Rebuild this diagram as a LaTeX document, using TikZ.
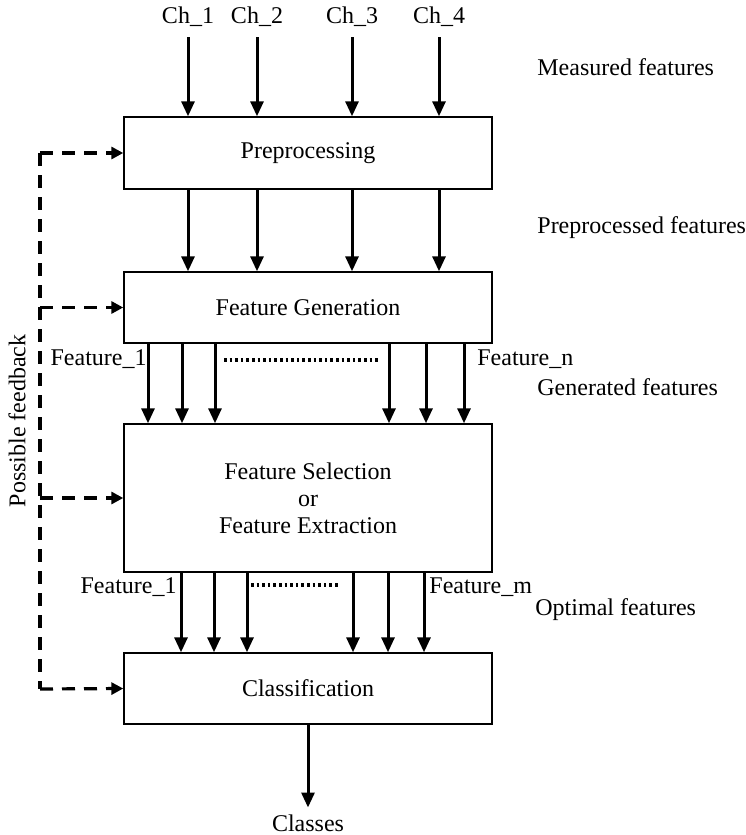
\documentclass[tikz,border=0pt]{standalone}
\usepackage{fontspec}
\setmainfont{Liberation Serif}
\usetikzlibrary{arrows.meta,positioning}

\begin{document}
\begin{tikzpicture}[
  x=0.5pt, y=-0.5pt,
  >={Triangle[length=7.5pt,width=6.5pt]},
  font=\fontsize{12}{13.5}\selectfont,
  box/.style   = {
    draw, line width=0.7pt,
    align=center,
    inner sep=0pt,
    minimum width=\boxw
  },
  flow/.style  = {->, line width=1.5pt},
  fbline/.style = {line width=1.6pt, dash pattern=on 6.5pt off 4.5pt},
  fbarrow/.style = {fbline, ->, >={Triangle[length=6pt,width=6pt]}},
  dotrow/.style = {line width=1.6pt, dash pattern=on 1.3pt off 1.5pt},
  label/.style = {inner sep=0pt}
]

% ---- constants ----
\def\boxw{184pt}      % same width for every box
\def\cx{308}          % centre line of the boxes

\useasboundingbox (0,0) rectangle (745,835);

% ---- blocks ----
\node[box, minimum height=36pt]   (pre) at (\cx,153)   {Preprocessing};
\node[box, minimum height=35.5pt] (gen) at (\cx,307.5) {Feature Generation};
\node[box, minimum height=74pt]   (sel) at (\cx,498)   {Feature Selection\\or\\Feature Extraction};
\node[box, minimum height=35.5pt] (cls) at (\cx,688.5) {Classification};

% ---- channels ----
\node[label] (ch1) at (188,17) {Ch\_1};
\node[label] (ch2) at (257,17) {Ch\_2};
\node[label] (ch3) at (352,17) {Ch\_3};
\node[label] (ch4) at (439,17) {Ch\_4};

\foreach \c in {ch1,ch2,ch3,ch4} {
  \draw[flow] ([yshift=-5pt]\c.south) -- (\c |- pre.north);
  \draw[flow] (pre.south -| \c) -- (gen.north -| \c);
}

% ---- generated features ----
\foreach \x [count=\i] in {148,182,215,389,426,464} {
  \coordinate (g\i) at (\x,0);
  \draw[flow] (gen.south -| g\i) -- (sel.north -| g\i);
}
\node[label, anchor=east] (gf1) at (147,359) {Feature\_1};
\node[label, anchor=west] (gfn) at (477,359) {Feature\_n};
\draw[dotrow] (224,360) -- (380,360);

% ---- optimal features ----
\foreach \x [count=\i] in {181,214,247,353,388,424} {
  \coordinate (o\i) at (\x,0);
  \draw[flow] (sel.south -| o\i) -- (cls.north -| o\i);
}
\node[label, anchor=east] (of1) at (177,587) {Feature\_1};
\node[label, anchor=west] (ofm) at (429,587) {Feature\_m};
\draw[dotrow] (251,585) -- (340,585);

% ---- output ----
\node (classes) at (\cx,823) {Classes};
\draw[flow] (cls.south) -- (classes.north);

% ---- stage names ----
\node[label, anchor=west] (meas) at (537,67)  {Measured features};
\node[label, anchor=west] (prep) at (537,228) {Preprocessed features};
\node[label, anchor=west] (genf) at (537,387) {Generated features};
\node[label, anchor=west] (optf) at (535,610) {Optimal features};

% ---- feedback ----
\coordinate (fbtop) at (40,153);
\coordinate (fbbot) at (40,689);
\draw[fbline] (fbtop) -- (fbbot);
\draw[fbarrow] (fbtop) -- (pre.west);
\draw[fbarrow] (fbtop |- gen.west) -- (gen.west);
\draw[fbarrow] (fbtop |- sel.west) -- (sel.west);
\draw[fbarrow] (fbbot) -- (cls.west);
\node[label, rotate=90] (fbtext) at (17,421) {Possible feedback};

\end{tikzpicture}
\end{document}
